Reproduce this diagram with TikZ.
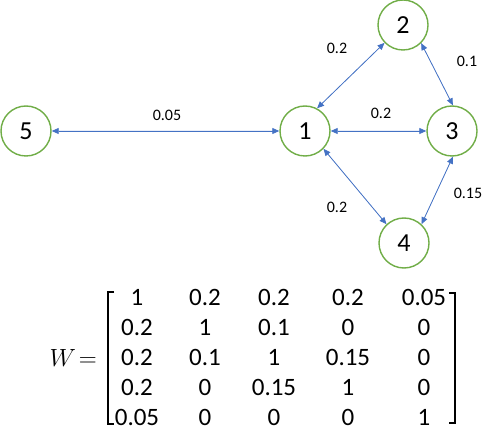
\documentclass[tikz,border=0pt]{standalone}
\usepackage{fontspec}
\setmainfont{Carlito}
\usepackage{xcolor}
\definecolor{cRing}{HTML}{70AD47}
\definecolor{cLink}{HTML}{4472C4}
\definecolor{cText}{HTML}{000000}
\usepackage{tikz}
\usetikzlibrary{arrows.meta}
\tikzset{
  node-vertex/.style={draw=cRing,line width=1.4pt,circle,minimum size=50pt,
    inner sep=0pt,font=\fontsize{26}{30}\selectfont},
  label-weight/.style={inner sep=0pt,font=\fontsize{16}{18}\selectfont},
  mat-entry/.style={inner sep=0pt,font=\fontsize{25}{30}\selectfont},
  arrow-both/.style={{Triangle[length=7pt,width=6pt]}-{Triangle[length=7pt,width=6pt]},
    line width=0.8pt,draw=cLink,fill=cLink},
  bracket/.style={line width=2.4pt,draw=cText},
}

\begin{document}
\begin{tikzpicture}[x=1pt,y=-1pt]
  \useasboundingbox (0,0) rectangle (482,430);
  % graph
  \node[node-vertex] (n5) at (26,131) {5};
  \node[node-vertex] (n1) at (305,131) {1};
  \node[node-vertex] (n2) at (403,25)  {2};
  \node[node-vertex] (n3) at (452,131) {3};
  \node[node-vertex] (n4) at (404,243) {4};
  \draw[arrow-both] (n5) -- (n1);
  \draw[arrow-both] (n1.62) -- (n2.224);
  \draw[arrow-both] (n2.-45) -- (n3.88);
  \draw[arrow-both] (n1) -- (n3);
  \draw[arrow-both] (n1.-44) -- (n4.133);
  \draw[arrow-both] (n3.-88) -- (n4.47);
  \node[label-weight] (w12) at (337,48)  {0.2};
  \node[label-weight] (w23) at (467,61)  {0.1};
  \node[label-weight] (w15) at (167,115) {0.05};
  \node[label-weight] (w13) at (381,113) {0.2};
  \node[label-weight] (w34) at (468,193) {0.15};
  \node[label-weight] (w14) at (337,207) {0.2};
  % weight matrix
  \node[inner sep=0pt,anchor=east,font=\fontsize{23}{28}\selectfont] (wlbl)
    at (97,358) {$W\!=$};
  \foreach \row [count=\r] in {{1,0.2,0.2,0.2,0.05},{0.2,1,0.1,0,0},%
      {0.2,0.1,1,0.15,0},{0.2,0,0.15,1,0},{0.05,0,0,0,1}} {
    \foreach \v [count=\c] in \row {
      \pgfmathsetmacro\xx{{137,205,274,348,424}[\c-1]}
      \pgfmathsetmacro\yy{{297,327,357,387,417}[\r-1]}
      \node[mat-entry] (m\r-\c) at (\xx,\yy) {\v};
    }
  }
  \draw[bracket] (114,292) -- (108,292) -- (108,424) -- (114,424);
  \draw[bracket] (449,293) -- (455,293) -- (455,423) -- (449,423);
\end{tikzpicture}
\end{document}
